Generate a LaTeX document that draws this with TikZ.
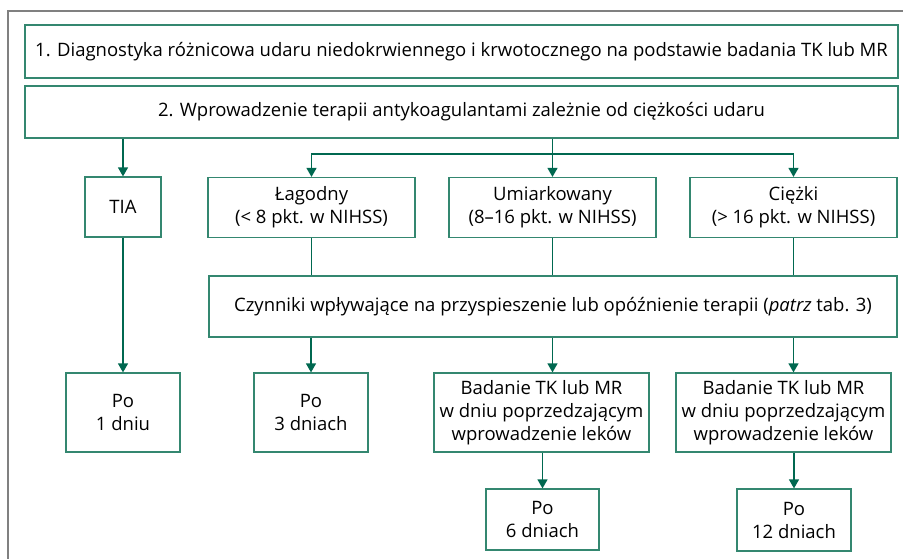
\documentclass[tikz,border=0pt]{standalone}
\usepackage{fontspec}
\setmainfont{Open Sans}
\usetikzlibrary{arrows.meta}
\definecolor{boxline}{RGB}{52,135,112}
\definecolor{arrline}{RGB}{0,104,80}
\definecolor{frameline}{RGB}{128,128,128}
\begin{document}
\begin{tikzpicture}[x=1pt,y=-1pt,%
% common options for the boxes:
stepbox/.style = {draw=boxline, line width=1.2pt, align=center,
            inner sep=0, font=\fontsize{18.5}{23}\selectfont},
% common options for the connectors:
conn/.style = {draw=arrline, line width=1.3pt},
arr/.style = {conn, -{Triangle[width=10pt,length=9pt]}}]
\useasboundingbox (0,0) rectangle (903,559);
\draw[frameline, line width=2pt] (8,559) -- (8,11) -- (903,11);
\node[stepbox,minimum width=873pt,minimum height=53pt] (diag) at (461.5,51.5)
  {1. Diagnostyka różnicowa udaru niedokrwiennego i krwotocznego na podstawie badania TK lub MR};
\node[stepbox,minimum width=873pt,minimum height=52pt] (ther) at (461.5,112)
  {2. Wprowadzenie terapii antykoagulantami zależnie od ciężkości udaru};
\node[stepbox,minimum width=76pt,minimum height=60pt] (tia) at (123,207) {TIA};
\node[stepbox,minimum width=207pt,minimum height=60pt] (mild) at (311.5,207.5) {Łagodny\\(< 8 pkt. w NIHSS)};
\node[stepbox,minimum width=207pt,minimum height=60pt] (mod) at (552.5,207.5) {Umiarkowany\\(8–16 pkt. w NIHSS)};
\node[stepbox,minimum width=207pt,minimum height=60pt] (sev) at (793.5,207.5) {Ciężki\\(> 16 pkt. w NIHSS)};
\node[stepbox,minimum width=688pt,minimum height=61pt] (fact) at (553,306.5)
  {Czynniki wpływające na przyspieszenie lub opóźnienie terapii (\textit{patrz} tab. 3)};
\node[stepbox,minimum width=114pt,minimum height=79pt] (day1) at (123,412.5) {Po\\1 dniu};
\node[stepbox,minimum width=114pt,minimum height=79pt] (day3) at (311,412.5) {Po\\3 dniach};
\node[stepbox,minimum width=215pt,minimum height=79pt] (scanA) at (541.5,412.5)
  {Badanie TK lub MR\\w dniu poprzedzającym\\wprowadzenie leków};
\node[stepbox,minimum width=215pt,minimum height=79pt] (scanB) at (783.5,412.5)
  {Badanie TK lub MR\\w dniu poprzedzającym\\wprowadzenie leków};
\node[stepbox,minimum width=113pt,minimum height=61pt] (day6) at (542.5,519.5) {Po\\6 dniach};
\node[stepbox,minimum width=114pt,minimum height=62pt] (day12) at (794,520) {Po\\12 dniach};
\coordinate (split) at (552.5,154);
\draw[arr] (tia.north |- ther.south) -- (tia.north);
\draw[arr] (mod.north |- ther.south) -- (mod.north);
\draw[arr] (split) -| (mild.north);
\draw[arr] (split) -| (sev.north);
\draw[conn] (mild.south) -- (mild.south |- fact.north);
\draw[conn] (mod.south) -- (mod.south |- fact.north);
\draw[conn] (sev.south) -- (sev.south |- fact.north);
\draw[arr] (tia.south) -- (day1.north);
\draw[arr] (day3.north |- fact.south) -- (day3.north);
\draw[arr] (mod.south |- fact.south) -- (mod.south |- scanA.north);
\draw[arr] (sev.south |- fact.south) -- (sev.south |- scanB.north);
\draw[arr] (day6.north |- scanA.south) -- (day6.north);
\draw[arr] (day12.north |- scanB.south) -- (day12.north);
\end{tikzpicture}
\end{document}
